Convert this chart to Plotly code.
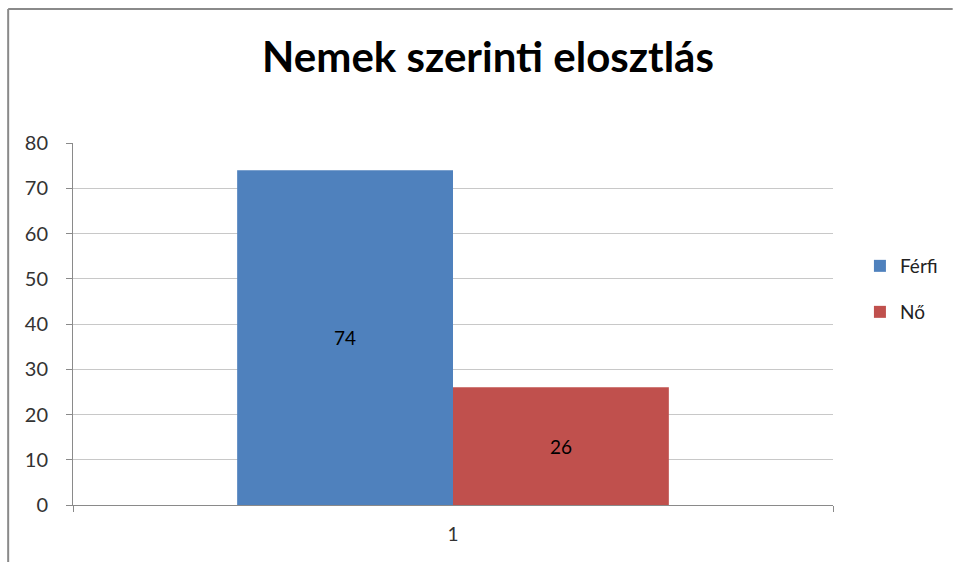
import plotly.graph_objects as go

categories = ["1"]
series_names = ["Férfi", "Nő"]
ferfi_values = [74]
no_values = [26]
colors = ["#4F81BD", "#C0504D"]
y_ticks = [0, 10, 20, 30, 40, 50, 60, 70, 80]

W, H = 955, 562
L, R, T, B = 73, 120, 143, 57
pw, ph = W - L - R, H - T - B
FONT = "Lato, Liberation Sans, sans-serif"

def px_x(x):
    return (x - L) / pw

def px_y(y):
    return (H - B - y) / ph

fig = go.Figure()
legend_names = ["legend", "legend2"]
for name, vals, col, lg in zip(series_names, [ferfi_values, no_values], colors, legend_names):
    fig.add_trace(go.Bar(
        x=categories, y=vals, name=name, marker=dict(color=col, line=dict(width=0)),
        text=[str(v) for v in vals], textposition="inside", insidetextanchor="middle",
        textfont=dict(family=FONT, size=19, color="#000000"), legend=lg,
    ))

legend_common = dict(xanchor="left", yanchor="middle", itemwidth=30,
                     font=dict(family=FONT, size=19, color="#222222"),
                     bgcolor="rgba(0,0,0,0)")

fig.update_layout(
    width=W, height=H,
    margin=dict(l=L, r=R, t=T, b=B),
    paper_bgcolor="white", plot_bgcolor="white",
    barmode="group", bargap=0.432, bargroupgap=0,
    title=dict(text="<b>Nemek szerinti elosztlás</b>", x=488 / W, xanchor="center",
               y=1 - 57 / H, yanchor="middle",
               font=dict(family=FONT, size=42, color="#000000")),
    legend=dict(x=px_x(862), y=px_y(266), **legend_common),
    legend2=dict(x=px_x(862), y=px_y(312), **legend_common),
    showlegend=True,
    font=dict(family=FONT),
    shapes=[
        dict(type="line", xref="paper", yref="paper", x0=px_x(8), x1=px_x(8),
             y0=px_y(9), y1=px_y(562), line=dict(color="#8a8a8a", width=2)),
        dict(type="line", xref="paper", yref="paper", x0=px_x(8), x1=px_x(955),
             y0=px_y(9), y1=px_y(9), line=dict(color="#8a8a8a", width=2)),
    ],
)
fig.update_yaxes(range=[0, 80], tickvals=y_ticks, showgrid=True, gridcolor="#c8c8c8", gridwidth=1,
                 showline=True, linecolor="#8a8a8a", linewidth=1, ticks="outside", ticklen=6,
                 tickcolor="#8a8a8a", zeroline=False, ticklabelstandoff=14,
                 tickfont=dict(family=FONT, size=20, color="#333333"))
fig.update_xaxes(type="category", showline=True, linecolor="#8a8a8a", linewidth=1,
                 ticks="outside", tickson="boundaries", ticklen=6, tickcolor="#8a8a8a",
                 ticklabelstandoff=12,
                 tickfont=dict(family=FONT, size=19, color="#333333"))

fig.write_html("out.html", config={"displayModeBar": False},
               post_script="document.body.style.margin='0';document.body.style.overflow='hidden';")
